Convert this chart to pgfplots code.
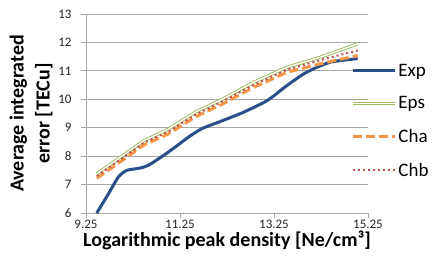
\documentclass[border=0pt]{standalone}
\usepackage{pgfplots}
\pgfplotsset{compat=1.18}
\usepackage{fontspec}
\setmainfont{Carlito}
\definecolor{cexp}{HTML}{2A4F88}
\definecolor{ceps}{HTML}{9BBB59}
\definecolor{ccha}{HTML}{F79646}
\definecolor{cchb}{HTML}{C0504D}
\definecolor{cgrid}{HTML}{A6A6A6}
\begin{document}
\begin{tikzpicture}
\begin{axis}[
  name=ax,
  scale only axis,
  width=282bp, height=199bp,
  xmin=9.25, xmax=15.25, ymin=6, ymax=13,
  xtick={9.25,11.25,13.25,15.25},
  xticklabels={9.25,11.25,13.25,15.25},
  ytick={6,7,8,9,10,11,12,13},
  axis x line*=bottom, axis y line*=left,
  axis line style={cgrid,line width=0.75bp,-},
  ymajorgrids, grid style={cgrid,line width=0.75bp},
  tick align=outside, major tick length=5bp,
  tick style={cgrid,line width=0.75bp},
  /pgf/number format/assume math mode=true,
  tick label style={font=\fontsize{13bp}{15bp}\selectfont, text=black!85},
  yticklabel style={xshift=-6bp},
  xticklabel style={yshift=1bp},
  xlabel={\textbf{Logarithmic peak density [Ne/cm³]}},
  xlabel style={font=\fontsize{20bp}{22bp}\selectfont, yshift=5bp},
  ylabel={\textbf{Average integrated}\\\textbf{error [TECu]}},
  ylabel style={font=\fontsize{20bp}{26bp}\selectfont, align=center, yshift=-1bp},
  legend style={at={(axis description cs:0.94,0.76)}, anchor=north west, draw=none, fill=none,
    font=\fontsize{19bp}{21bp}\selectfont, row sep=15bp, inner sep=0pt},
  legend cell align=left,
  legend image code/.code={\draw[#1] (0bp,0bp) -- (42bp,0bp);},
  clip=false,
]
\addplot[cexp, line width=3bp, smooth, tension=0.4] coordinates {
(9.48,6.0) (9.73,6.68) (9.94,7.27) (10.12,7.5) (10.4,7.58) (10.58,7.68) (10.87,7.99)
(11.15,8.32) (11.43,8.67) (11.72,8.97) (12.11,9.22) (12.61,9.55) (13.11,9.96)
(13.53,10.49) (13.89,10.9) (14.17,11.13) (14.46,11.31) (14.81,11.39) (15.03,11.43)};
\addlegendentry{Exp}
\addplot[ceps, line width=0.9bp, double=white, double distance=1.4bp] coordinates {
(9.48,7.38) (9.94,7.91) (10.47,8.53) (11.0,8.95) (11.58,9.55) (12.15,10.0)
(12.82,10.6) (13.53,11.13) (14.24,11.48) (15.03,11.95)};
\addlegendentry{Eps}
\addplot[ccha, line width=3bp, dash pattern=on 9bp off 4bp] coordinates {
(9.48,7.22) (9.94,7.75) (10.47,8.38) (11.0,8.78) (11.58,9.38) (12.15,9.83)
(12.82,10.42) (13.53,10.95) (14.24,11.25) (15.03,11.54)};
\addlegendentry{Cha}
\addplot[cchb, line width=2bp, dash pattern=on 2bp off 3bp] coordinates {
(9.48,7.3) (9.94,7.83) (10.47,8.46) (11.0,8.86) (11.58,9.46) (12.15,9.92)
(12.82,10.51) (13.53,11.04) (14.24,11.38) (15.03,11.72)};
\addlegendentry{Chb}
\end{axis}
\pgfresetboundingbox
\path[use as bounding box] ([xshift=-86bp,yshift=-44bp]ax.south west) rectangle ([xshift=66bp,yshift=14bp]ax.north east);
\end{tikzpicture}
\end{document}
